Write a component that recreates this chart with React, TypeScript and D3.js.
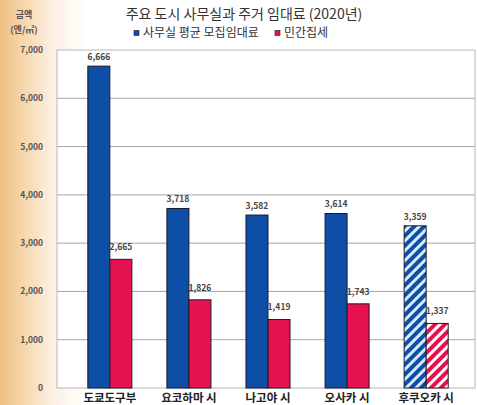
import { useEffect, useRef } from 'react';
import * as d3 from 'd3';

const cities = ['도쿄도구부', '요코하마 시', '나고야 시', '오사카 시', '후쿠오카 시'];
const officeRent = [6666, 3718, 3582, 3614, 3359];
const housingRent = [2665, 1826, 1419, 1743, 1337];
const seriesNames = ['사무실 평균 모집임대료', '민간집세'];
const yTicks = [0, 1000, 2000, 3000, 4000, 5000, 6000, 7000];

const App = (): JSX.Element => {
  const svgRef = useRef<SVGSVGElement>(null);

  useEffect(() => {
    if (svgRef.current) {
      svgRef.current.innerHTML = '';
    }
    const width = 477;
    const height = 405;
    const plotLeft = 57;
    const plotRight = 475;
    const plotTop = 50;
    const plotBottom = 388;
    const font = "'Noto Sans CJK KR', 'Noto Sans', sans-serif";

    const svg = d3
      .select(svgRef.current)
      .attr('width', width)
      .attr('height', height)
      .attr('viewBox', [0, 0, width, height]);

    const defs = svg.append('defs');

    // orange fade along the left edge
    const bg = defs.append('linearGradient').attr('id', 'bgGrad').attr('x1', 0).attr('x2', 1).attr('y1', 0).attr('y2', 0);
    bg.append('stop').attr('offset', '0%').attr('stop-color', '#efbf80');
    bg.append('stop').attr('offset', '5%').attr('stop-color', '#f6d7ad');
    bg.append('stop').attr('offset', '11%').attr('stop-color', '#fcf0e2');
    bg.append('stop').attr('offset', '18%').attr('stop-color', '#ffffff');

    const hatch = (id: string, base: string, stripe: string) => {
      const p = defs
        .append('pattern')
        .attr('id', id)
        .attr('patternUnits', 'userSpaceOnUse')
        .attr('width', 7)
        .attr('height', 7)
        .attr('patternTransform', 'rotate(45)');
      p.append('rect').attr('width', 7).attr('height', 7).attr('fill', base);
      p.append('rect').attr('width', 3).attr('height', 7).attr('fill', stripe);
    };
    hatch('hatchBlue', '#0d4ea6', '#d6ecfa');
    hatch('hatchPink', '#e5124f', '#ffffff');

    svg.append('rect').attr('width', width).attr('height', height).attr('fill', 'url(#bgGrad)');

    const y = d3.scaleLinear([0, 7000], [plotBottom, plotTop]);

    const x = d3.scaleBand(cities, [72, 464]).paddingInner(0.443).paddingOuter(0.2);
    const xSub = d3.scaleBand([0, 1], [0, x.bandwidth()]);

    // plot area
    svg
      .append('rect')
      .attr('x', plotLeft)
      .attr('y', plotTop)
      .attr('width', plotRight - plotLeft)
      .attr('height', plotBottom - plotTop)
      .attr('fill', '#ffffff')
      .attr('stroke', '#b8b8b8');

    // grid lines
    svg
      .append('g')
      .selectAll('line')
      .data(yTicks.filter((d) => d > 0 && d < 7000))
      .enter()
      .append('line')
      .attr('x1', plotLeft)
      .attr('x2', plotRight)
      .attr('y1', (d) => y(d))
      .attr('y2', (d) => y(d))
      .attr('stroke', '#a6a6a6');

    // y tick labels
    svg
      .append('g')
      .selectAll('text')
      .data(yTicks)
      .enter()
      .append('text')
      .attr('x', 43)
      .attr('y', (d) => y(d) + 3)
      .attr('text-anchor', 'end')
      .attr('font-family', font)
      .attr('font-size', 8.5)
      .attr('font-weight', 'bold')
      .attr('fill', '#555')
      .text((d) => d3.format(',')(d));

    // y axis unit
    svg
      .append('text')
      .attr('x', 24)
      .attr('y', 18)
      .attr('text-anchor', 'middle')
      .attr('font-family', font)
      .attr('font-size', 9)
      .attr('font-weight', 'bold')
      .attr('fill', '#555')
      .text('금액');
    svg
      .append('text')
      .attr('x', 24)
      .attr('y', 33)
      .attr('text-anchor', 'middle')
      .attr('font-family', font)
      .attr('font-size', 9)
      .attr('font-weight', 'bold')
      .attr('fill', '#555')
      .text('(엔/㎡)');

    const series = [officeRent, housingRent];
    const fills = [
      ['#0d4ea6', '#e5124f'],
      ['url(#hatchBlue)', 'url(#hatchPink)'],
    ];

    series.forEach((values, s) => {
      const g = svg.append('g');
      g.selectAll('rect')
        .data(values)
        .enter()
        .append('rect')
        .attr('x', (_, i) => (x(cities[i]) as number) + (xSub(s) as number))
        .attr('y', (d) => y(d))
        .attr('width', xSub.bandwidth())
        .attr('height', (d) => plotBottom - y(d))
        .attr('fill', (_, i) => (i === cities.length - 1 ? fills[1][s] : fills[0][s]))
        .attr('stroke', '#1b1b2e')
        .attr('stroke-width', 1);

      g.selectAll('text')
        .data(values)
        .enter()
        .append('text')
        .attr('x', (_, i) => (x(cities[i]) as number) + (xSub(s) as number) + xSub.bandwidth() / 2)
        .attr('y', (d) => y(d) - (s === 0 ? 6 : 9))
        .attr('text-anchor', 'middle')
        .attr('font-family', font)
        .attr('font-size', 8.5)
        .attr('font-weight', 'bold')
        .attr('fill', '#444')
        .text((d) => d3.format(',')(d));
    });

    // category labels
    svg
      .append('g')
      .selectAll('text')
      .data(cities)
      .enter()
      .append('text')
      .attr('x', (d) => (x(d) as number) + x.bandwidth() / 2)
      .attr('y', 402)
      .attr('text-anchor', 'middle')
      .attr('font-family', font)
      .attr('font-size', 11.5)
      .attr('font-weight', 'bold')
      .attr('fill', '#222')
      .text((d) => d);

    // title
    svg
      .append('text')
      .attr('x', 244)
      .attr('y', 19)
      .attr('text-anchor', 'middle')
      .attr('font-family', font)
      .attr('font-size', 14)
      .attr('fill', '#333')
      .text('주요 도시 사무실과 주거 임대료 (2020년)');

    // legend
    const legendX = [134, 275];
    const legendColors = ['#0d4ea6', '#e5124f'];
    seriesNames.forEach((name, i) => {
      svg
        .append('rect')
        .attr('x', legendX[i])
        .attr('y', 30.5)
        .attr('width', 5)
        .attr('height', 5)
        .attr('fill', legendColors[i])
        .attr('stroke', '#1b1b2e')
        .attr('stroke-width', 0.6);
      svg
        .append('text')
        .attr('x', legendX[i] + 9)
        .attr('y', 37)
        .attr('font-family', font)
        .attr('font-size', 12)
        .attr('fill', '#333')
        .text(name);
    });
  }, []);

  return (
    <div style={{ position: 'absolute', left: 0, top: 0 }}>
      <svg ref={svgRef} style={{ display: 'block' }} />
    </div>
  );
};

export default App;
